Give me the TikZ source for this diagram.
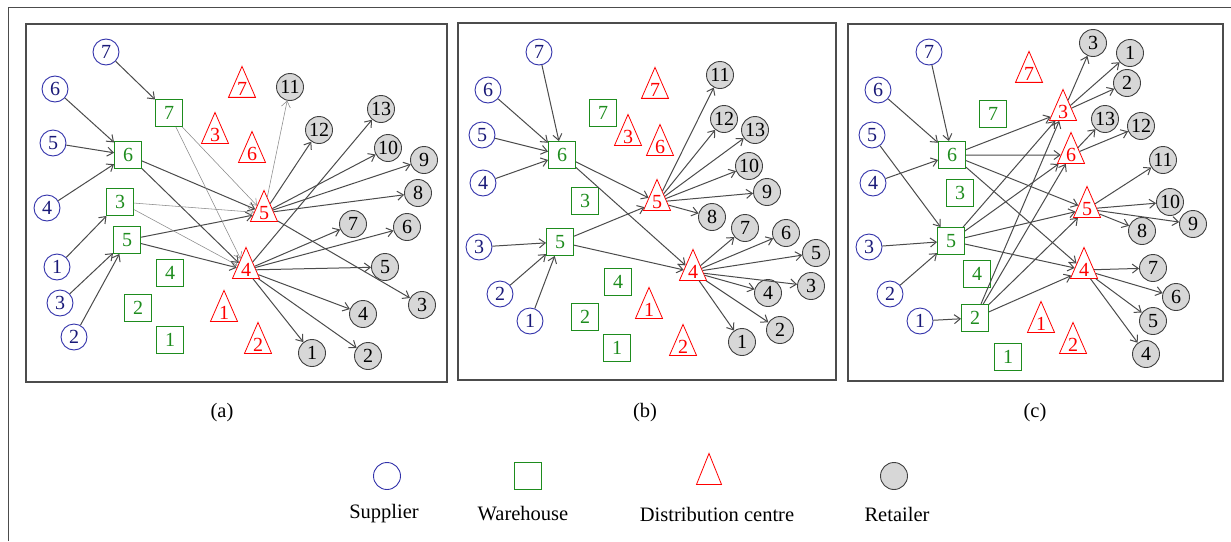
\documentclass[tikz,border=0pt]{standalone}
\usepackage{fontspec}
\setmainfont{Liberation Serif}
\usetikzlibrary{shapes.geometric,arrows.meta}

\begin{document}
\begin{tikzpicture}[x=1pt,y=-1pt,
    every node/.style={font=\fontsize{20.5}{21}\selectfont},
    num/.style={font=\fontsize{20}{20}\selectfont},
    supplier/.style={circle, num, draw=supline, text=suptext, line width=0.9pt, minimum size=26pt, inner sep=0pt},
    warehouse/.style={rectangle, num, draw=warcol, text=warcol, line width=0.9pt, minimum size=27pt, inner sep=0pt},
    distcentre/.style={isosceles triangle, num, isosceles triangle apex angle=48, isosceles triangle stretches,
        shape border rotate=90, draw=red, text=red, line width=0.8pt, minimum width=27pt, minimum height=31pt, inner sep=0pt},
    retailer/.style={circle, num, draw=black!75, fill=retcol, line width=0.9pt, minimum size=27pt, inner sep=0pt},
    flow/.style={-{Straight Barb[length=6pt,width=9pt]}, draw=flowcol, line width=1pt},
    thinflow/.style={flow, draw=flowcol!65, line width=0.55pt},
    frame/.style={draw=black!70, line width=1.2pt}]
        % Define colors
        \definecolor{supline}{RGB}{50,50,170}
        \definecolor{suptext}{RGB}{25,25,120}
        \definecolor{warcol}{RGB}{30,140,30}
        \definecolor{retcol}{RGB}{215,215,215}
        \definecolor{flowcol}{RGB}{75,75,75}

        % Canvas and frames
        \useasboundingbox (0,0) rectangle (1231,541);
        \draw[black!70, line width=1pt] (8,541) -- (8,7) -- (1231,7);
        \draw[frame] (26,24) rectangle (447,382);
        \draw[frame] (458,23) rectangle (836,380);
        \draw[frame] (848,24) rectangle (1223,381);

        % Panel (a)
        \foreach \n/\x/\y in {7/106/52, 6/55/89, 5/53/143, 4/47/208, 1/57/267, 3/60/303, 2/74/337}
            \node[supplier] (a-s\n) at (\x,\y) {\n};
        \foreach \n/\x/\y in {7/169/113, 6/128/155, 3/120/202, 5/127/240, 4/170/273, 2/138/308, 1/170/340}
            \node[warehouse] (a-w\n) at (\x,\y) {\n};
        \foreach \n/\x/\y in {7/242/89, 3/215/135, 6/252/154, 5/264/213, 4/246/270, 1/224/313, 2/258/345}
            \node[distcentre] (a-d\n) at (\x,\y) {\n};
        \foreach \n/\x/\y in {11/290/87, 12/319/130, 13/381/109, 10/388/148, 9/424/160, 8/418/193, 7/353/224,
                              6/407/227, 5/385/267, 3/422/305, 4/363/314, 1/312/353, 2/368/356}
            \node[retailer] (a-r\n) at (\x,\y) {\n};
        \foreach \u/\v in {s7/w7, s6/w6, s5/w6, s4/w6, s1/w3, s3/w5, s2/w5, w6/d5, w6/d4, w5/d5, w5/d4,
                           d5/r12, d5/r10, d5/r9, d5/r8, d5/r3, d4/r13, d4/r7, d4/r6, d4/r5, d4/r4, d4/r2, d4/r1}
            \draw[flow] (a-\u) -- (a-\v);
        \foreach \u/\v in {w7/d5, w7/d4, w3/d5, w3/d4, d5/r11}
            \draw[thinflow] (a-\u) -- (a-\v);

        % Panel (b)
        \foreach \n/\x/\y in {7/539/52, 6/488/90, 5/482/135, 4/483/183, 3/479/247, 2/500/294, 1/530/321}
            \node[supplier] (b-s\n) at (\x,\y) {\n};
        \foreach \n/\x/\y in {7/603/113, 6/562/155, 3/585/201, 5/560/242, 4/618/282, 2/585/317, 1/617/348}
            \node[warehouse] (b-w\n) at (\x,\y) {\n};
        \foreach \n/\x/\y in {7/655/90, 3/628/137, 6/660/147, 5/657/202, 4/693/272, 1/649/310, 2/683/347}
            \node[distcentre] (b-d\n) at (\x,\y) {\n};
        \foreach \n/\x/\y in {11/720/75, 12/724/119, 13/755/130, 10/749/166, 9/767/192, 8/712/217, 7/745/228,
                              6/786/233, 5/816/253, 3/811/286, 4/768/293, 2/780/330, 1/742/342}
            \node[retailer] (b-r\n) at (\x,\y) {\n};
        \foreach \u/\v in {s7/w6, s6/w6, s5/w6, s4/w6, s3/w5, s2/w5, s1/w5, w6/d5, w6/d4, w5/d5, w5/d4,
                           d5/r11, d5/r12, d5/r13, d5/r10, d5/r9, d5/r8,
                           d4/r7, d4/r6, d4/r5, d4/r3, d4/r4, d4/r2, d4/r1}
            \draw[flow] (b-\u) -- (b-\v);

        % Panel (c)
        \foreach \n/\x/\y in {7/929/52, 6/878/90, 5/872/135, 4/873/183, 3/869/247, 2/890/294, 1/920/321}
            \node[supplier] (c-s\n) at (\x,\y) {\n};
        \foreach \n/\x/\y in {7/993/114, 6/952/155, 3/960/193, 5/951/241, 4/977/274, 2/975/318, 1/1008/357}
            \node[warehouse] (c-w\n) at (\x,\y) {\n};
        \foreach \n/\x/\y in {7/1029/74, 3/1063/112, 6/1071/155, 5/1087/209, 4/1084/270, 1/1041/324, 2/1073/345}
            \node[distcentre] (c-d\n) at (\x,\y) {\n};
        \foreach \n/\x/\y in {3/1093/43, 1/1130/53, 2/1127/83, 13/1105/119, 12/1141/126, 11/1163/160, 10/1170/202,
                              9/1193/224, 8/1142/231, 7/1153/268, 6/1176/297, 5/1153/321, 4/1146/354}
            \node[retailer] (c-r\n) at (\x,\y) {\n};
        \foreach \u/\v in {s7/w6, s6/w6, s4/w6, s5/w5, s3/w5, s2/w5, s1/w2,
                           w6/d3, w6/d6, w6/d5, w6/d4, w5/d3, w5/d6, w5/d5, w5/d4, w2/d3, w2/d6, w2/d5, w2/d4,
                           d3/r3, d3/r1, d3/r2, d6/r13, d6/r12, d5/r11, d5/r10, d5/r9, d5/r8,
                           d4/r7, d4/r6, d4/r5, d4/r4}
            \draw[flow] (c-\u) -- (c-\v);

        % Captions
        \node (cap-a) at (222,413) {(a)};
        \node (cap-b) at (645,413) {(b)};
        \node (cap-c) at (1035,413) {(c)};

        % Legend
        \node[supplier, minimum size=27pt] (key-s) at (387,476) {};
        \node[warehouse] (key-w) at (528,476) {};
        \node[distcentre, minimum height=31pt, minimum width=25pt] (key-d) at (709,476) {};
        \node[retailer] (key-r) at (894,476) {};
        \node (lab-s) at (384,514) {Supplier};
        \node (lab-w) at (523,514) {Warehouse};
        \node (lab-d) at (717,514) {Distribution centre};
        \node (lab-r) at (897,514) {Retailer};
    \end{tikzpicture}
\end{document}
